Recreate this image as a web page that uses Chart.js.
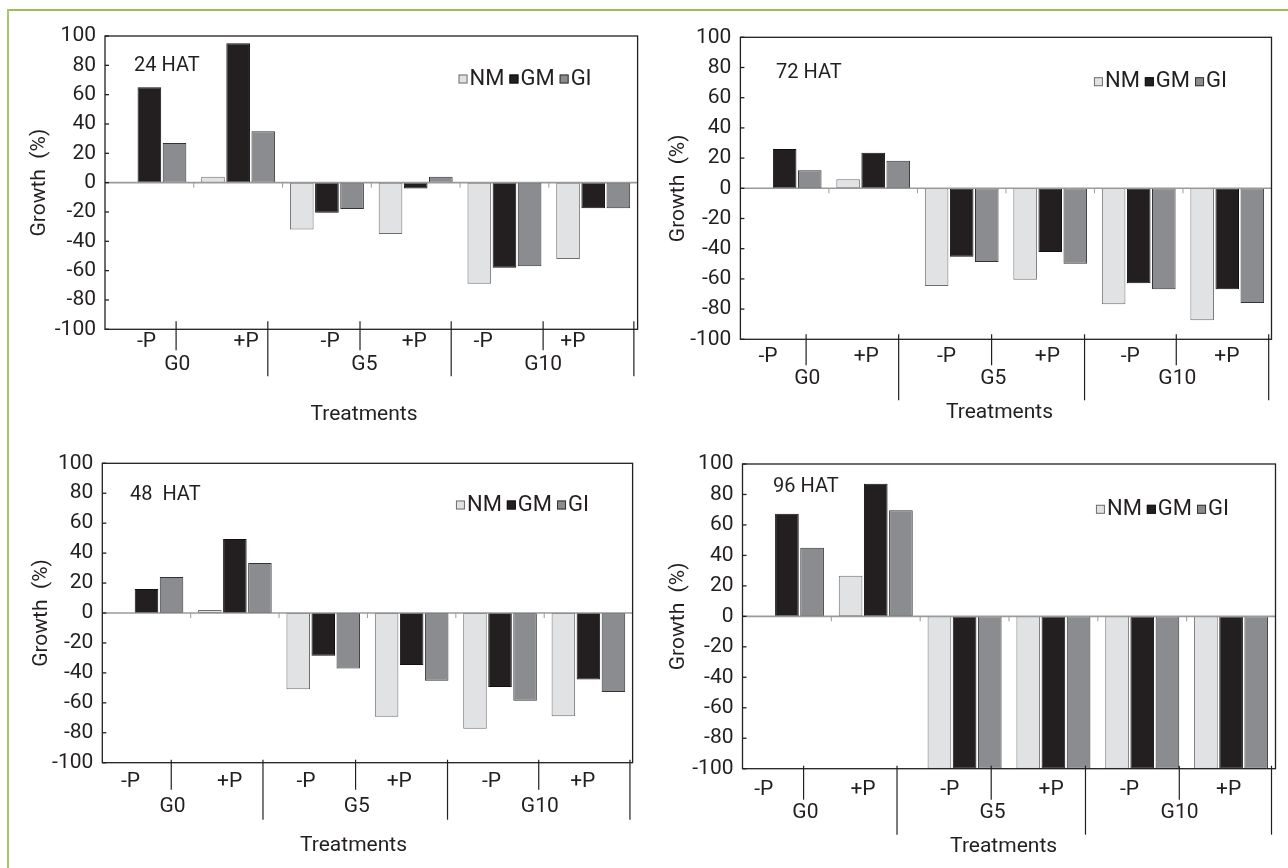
<!DOCTYPE html>
<html>
<head>
<meta charset="utf-8">
<title>Growth (%) by treatment</title>
<script src="https://cdn.jsdelivr.net/npm/chart.js@4.4.1/dist/chart.umd.min.js"></script>
<style>
  html, body { margin: 0; padding: 0; background: #fff; }
  #page { position: relative; width: 1288px; height: 868px; overflow: hidden; background: #fff; }
  #page canvas { position: absolute; left: 0; top: 0; }
  .edge-top { position: absolute; left: 7px; top: 9px; width: 1281px; height: 2px; background: #9fbb58; }
  .edge-left { position: absolute; left: 7px; top: 9px; width: 2px; height: 859px; background: #abc56c; }
</style>
</head>
<body>
<div id="page">
  <div class="edge-top"></div>
  <div class="edge-left"></div>
  <canvas id="c24" width="1288" height="868"></canvas>
  <canvas id="c72" width="1288" height="868"></canvas>
  <canvas id="c48" width="1288" height="868"></canvas>
  <canvas id="c96" width="1288" height="868"></canvas>
</div>
<script>
// categories
const treatments = ['-P', '+P', '-P', '+P', '-P', '+P'];
const gLevels = ['G0', 'G5', 'G10'];
const seriesNames = ['NM', 'GM', 'GI'];

// y axis
const yMin = -100;
const yMax = 100;
const yStep = 20;

// growth (%), one array per series and time
const nm24 = [0, 4, -32, -35, -69, -52];
const gm24 = [65, 95, -20.5, -4, -58, -17.5];
const gi24 = [27, 35, -18, 4, -57, -17.5];

const nm72 = [0, 6, -64.7, -60.5, -76.8, -87.4];
const gm72 = [26, 23.6, -45.3, -42.2, -62.9, -66.8];
const gi72 = [12, 18.3, -48.8, -49.9, -66.9, -75.9];

const nm48 = [0, 2, -51, -69.3, -77.3, -69];
const gm48 = [16, 49.4, -28.5, -34.7, -49.4, -44.5];
const gi48 = [24, 33.4, -37, -45.2, -58.6, -52.8];

const nm96 = [0, 26.7, -100, -100, -100, -100];
const gm96 = [67.4, 87.1, -100, -100, -100, -100];
const gi96 = [45.1, 69.6, -100, -100, -100, -100];

const ink = '#231f20';
const fills = ['#e1e2e4', '#231f20', '#8b8c8f'];
const edges = ['#6d6e71', '#111111', '#333333'];
const fontFamily = 'Roboto, "Liberation Sans", Arial, sans-serif';
const fontSize = 21;

// where each panel sits on the page, and its hand-drawn table under the axis
const panels = [
  { id: 'c24', title: '24 HAT', series: [nm24, gm24, gi24],
    box: { l: 105, r: 637.6, t: 36, b: 329.3 }, yTitleX: 40,
    titleAt: [29, 29.5], legendY: 43, legendRight: 46,
    lines: [0.1335, 0.3057, 0.4788, 0.650, 0.8226, 0.993], lineTop: -8, shortEnd: 21, longEnd: 47,
    pm: [0.078, 0.265, 0.4227, 0.5806, 0.710, 0.8785], pmY: 12.4,
    g: [0.1356, 0.487, 0.8226], gY: 35.7, xTitle: [364, 415] },
  { id: 'c72', title: '72 HAT', series: [nm72, gm72, gi72],
    box: { l: 740.4, r: 1271.5, t: 37.3, b: 339.3 }, yTitleX: 679,
    titleAt: [35.6, 35.7], legendY: 44.4, legendRight: 44.5,
    lines: [0.1237, 0.298, 0.473, 0.648, 0.8207, 0.9947], lineTop: -5, shortEnd: 26, longEnd: 61,
    pm: [0.052, 0.237, 0.388, 0.578, 0.734, 0.916], pmY: 17.4,
    g: [0.126, 0.476, 0.8226], gY: 39.5, xTitle: [999.5, 413] },
  { id: 'c48', title: '48  HAT', series: [nm48, gm48, gi48],
    box: { l: 102.3, r: 632.6, t: 463.3, b: 762.7 }, yTitleX: 42,
    titleAt: [27.7, 31.7], legendY: 41.7, legendRight: 43.6,
    lines: [0.130, 0.303, 0.4776, 0.651, 0.823, 0.995], lineTop: -3, shortEnd: 27, longEnd: 57,
    pm: [0.053, 0.24, 0.384, 0.56, 0.734, 0.906], pmY: 19,
    g: [0.1325, 0.48, 0.825], gY: 44, xTitle: [353.5, 846] },
  { id: 'c96', title: '96 HAT', series: [nm96, gm96, gi96],
    box: { l: 742.5, r: 1275.5, t: 464, b: 768.7 }, yTitleX: 679,
    titleAt: [30.5, 22.7], legendY: 45.3, legendRight: 46.5,
    lines: [0.1146, 0.2899, 0.4666, 0.6435, 0.8195, 0.9925], lineTop: -3, shortEnd: 31, longEnd: 66,
    pm: [0.040, 0.226, 0.389, 0.579, 0.726, 0.912], pmY: 21.3,
    g: [0.118, 0.469, 0.82], gY: 44, xTitle: [1003.6, 846.7] }
];

function font(size) {
  return size + 'px ' + fontFamily;
}

const decor = {
  id: 'decor',
  afterDatasetsDraw(chart, args, p) {
    const ctx = chart.ctx;
    const area = chart.chartArea;
    const x = chart.scales.x;
    const y = chart.scales.y;
    const w = area.right - area.left;
    const y0 = y.getPixelForValue(0);

    ctx.save();

    // zero line with small ticks between categories
    ctx.strokeStyle = '#9a9a9a';
    ctx.lineWidth = 1.6;
    ctx.beginPath();
    ctx.moveTo(area.left, y0);
    ctx.lineTo(area.right, y0);
    ctx.stroke();
    ctx.lineWidth = 1;
    for (let i = 0; i < treatments.length - 1; i++) {
      const bx = (x.getPixelForValue(i) + x.getPixelForValue(i + 1)) / 2;
      ctx.beginPath();
      ctx.moveTo(bx, y0);
      ctx.lineTo(bx, y0 + 5);
      ctx.stroke();
    }

    // plot frame and inward y ticks
    ctx.strokeStyle = ink;
    ctx.lineWidth = 1.3;
    ctx.strokeRect(area.left, area.top, w, area.bottom - area.top);
    y.ticks.forEach(t => {
      const ty = y.getPixelForValue(t.value);
      ctx.beginPath();
      ctx.moveTo(area.left, ty);
      ctx.lineTo(area.left + 4, ty);
      ctx.stroke();
    });

    // panel title
    ctx.fillStyle = ink;
    ctx.font = font(20);
    ctx.textAlign = 'left';
    ctx.textBaseline = 'middle';
    ctx.fillText(p.title, area.left + p.titleAt[0], area.top + p.titleAt[1]);

    // legend inside the plot, top right
    ctx.font = font(22);
    const boxSize = 9;
    const items = chart.data.datasets.map(ds => ({ ds: ds, w: ctx.measureText(ds.label).width }));
    let total = 0;
    items.forEach(it => { total += boxSize + 2 + it.w; });
    total += 5 * (items.length - 1);
    let lx = area.right - p.legendRight - total;
    const ly = area.top + p.legendY;
    items.forEach(it => {
      ctx.fillStyle = it.ds.backgroundColor;
      ctx.fillRect(lx, ly - boxSize / 2, boxSize, boxSize);
      ctx.strokeStyle = it.ds.borderColor;
      ctx.lineWidth = 1;
      ctx.strokeRect(lx + 0.5, ly - boxSize / 2 + 0.5, boxSize - 1, boxSize - 1);
      lx += boxSize + 2;
      ctx.fillStyle = ink;
      ctx.fillText(it.ds.label, lx, ly);
      lx += it.w + 5;
    });

    // treatment table under the axis
    ctx.strokeStyle = ink;
    ctx.lineWidth = 1.2;
    p.lines.forEach((f, i) => {
      const lxp = area.left + f * w;
      ctx.beginPath();
      ctx.moveTo(lxp, area.bottom + p.lineTop);
      ctx.lineTo(lxp, area.bottom + (i % 2 === 1 ? p.longEnd : p.shortEnd));
      ctx.stroke();
    });
    ctx.fillStyle = ink;
    ctx.font = font(fontSize);
    ctx.textAlign = 'center';
    treatments.forEach((t, i) => {
      ctx.fillText(t, area.left + p.pm[i] * w, area.bottom + p.pmY);
    });
    gLevels.forEach((g, i) => {
      ctx.fillText(g, area.left + p.g[i] * w, area.bottom + p.gY);
    });
    ctx.fillText('Treatments', p.xTitle[0], p.xTitle[1]);

    ctx.restore();
  }
};

panels.forEach(p => {
  const padLeft = p.yTitleX - fontSize * 0.6;
  new Chart(document.getElementById(p.id), {
    type: 'bar',
    data: {
      labels: treatments,
      datasets: seriesNames.map((name, i) => ({
        label: name,
        data: p.series[i],
        backgroundColor: fills[i],
        borderColor: edges[i],
        borderWidth: 1,
        borderSkipped: false,
        barPercentage: 0.94,
        categoryPercentage: 0.85
      }))
    },
    options: {
      responsive: false,
      animation: false,
      events: [],
      layout: {
        padding: { left: padLeft, top: p.box.t, right: 1288 - p.box.r, bottom: 868 - p.box.b }
      },
      plugins: {
        legend: { display: false },
        tooltip: { enabled: false },
        decor: p
      },
      scales: {
        x: { display: false, offset: true },
        y: {
          min: yMin,
          max: yMax,
          ticks: { stepSize: yStep, padding: 9, color: ink, font: { family: fontFamily, size: fontSize } },
          grid: { display: false, drawTicks: false, tickLength: 0 },
          border: { display: false },
          title: {
            display: true,
            text: 'Growth  (%)',
            color: ink,
            padding: 0,
            font: { family: fontFamily, size: fontSize }
          },
          afterFit(scale) {
            scale.width = p.box.l - padLeft;
          }
        }
      }
    },
    plugins: [decor]
  });
});
</script>
</body>
</html>
